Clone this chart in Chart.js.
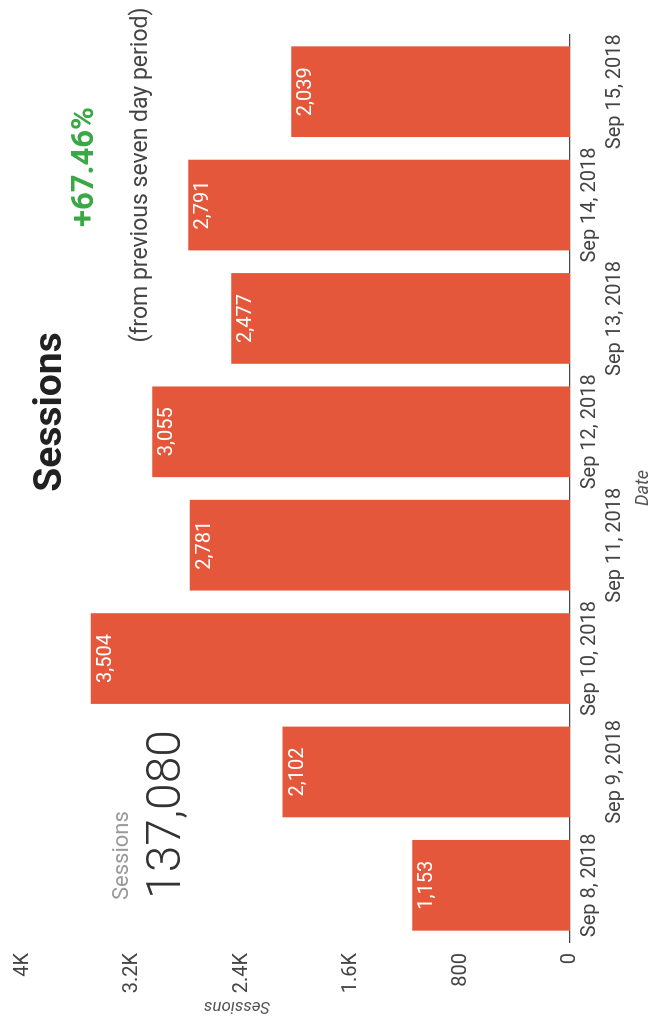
<!DOCTYPE html>
<html>
<head>
<meta charset="utf-8">
<script src="https://cdn.jsdelivr.net/npm/chart.js@4/dist/chart.umd.min.js"></script>
<style>
  html, body { margin: 0; padding: 0; background: #ffffff; }
  body { width: 652px; height: 1025px; overflow: hidden; position: relative; }
  /* the report page is laid out landscape and turned a quarter turn */
  #page {
    position: absolute; left: 0; top: 0;
    width: 1025px; height: 652px;
    transform-origin: 0 0;
    transform: translate(0, 1025px) rotate(-90deg);
    background: #ffffff;
  }
  #chart { display: block; }
</style>
</head>
<body>
<div id="page"><canvas id="chart" width="1025" height="652"></canvas></div>
<script>
// Daily sessions for the week
const dates = ['Sep 8, 2018', 'Sep 9, 2018', 'Sep 10, 2018', 'Sep 11, 2018',
               'Sep 12, 2018', 'Sep 13, 2018', 'Sep 14, 2018', 'Sep 15, 2018'];
const sessions = [1153, 2102, 3504, 2781, 3055, 2477, 2791, 2039];
const sessionTicks = ['0', '800', '1.6K', '2.4K', '3.2K', '4K'];
const totalSessions = '137,080';
const periodChange = '+67.46%';
const periodNote = '(from previous seven day period)';

const FONT = 'Roboto, "Noto Sans", sans-serif';

// white value labels just inside the top of each bar
const barValues = {
  id: 'barValues',
  afterDatasetsDraw(chart) {
    const ctx = chart.ctx;
    const meta = chart.getDatasetMeta(0);
    ctx.save();
    ctx.fillStyle = '#ffffff';
    ctx.font = '20px ' + FONT;
    ctx.textAlign = 'center';
    ctx.textBaseline = 'alphabetic';
    meta.data.forEach((bar, i) => {
      ctx.fillText(sessions[i].toLocaleString('en-US'), bar.x, bar.y + 20);
    });
    ctx.restore();
  }
};

// report heading, scorecard and axis titles
const pageText = {
  id: 'pageText',
  afterDraw(chart) {
    const ctx = chart.ctx;
    ctx.save();
    ctx.textBaseline = 'alphabetic';

    ctx.textAlign = 'center';
    ctx.fillStyle = '#212121';
    ctx.font = 'bold 39px ' + FONT;
    ctx.fillText('Sessions', 613, 61);

    ctx.fillStyle = '#3aa845';
    ctx.font = 'bold 31px ' + FONT;
    ctx.fillText(periodChange, 858, 93);

    ctx.fillStyle = '#444444';
    ctx.font = '23px ' + FONT;
    ctx.fillText(periodNote, 850, 147);

    ctx.textAlign = 'left';
    ctx.fillStyle = '#9a9a9a';
    ctx.font = '22px ' + FONT;
    ctx.fillText('Sessions', 125, 128);

    ctx.fillStyle = '#333333';
    ctx.font = '300 48px ' + FONT;
    ctx.fillText(totalSessions, 126, 180);

    ctx.textAlign = 'center';
    ctx.fillStyle = '#555555';
    ctx.font = 'italic 18px ' + FONT;
    ctx.fillText('Date', 537, 648);

    ctx.translate(23, 237);
    ctx.rotate(-Math.PI / 2);
    ctx.font = 'italic 17px ' + FONT;
    ctx.fillText('Sessions', 0, 0);
    ctx.restore();
  }
};

new Chart(document.getElementById('chart'), {
  type: 'bar',
  data: {
    labels: dates,
    datasets: [{
      label: 'Sessions',
      data: sessions,
      backgroundColor: '#e4573a',
      borderWidth: 0,
      barPercentage: 0.8,
      categoryPercentage: 1.0
    }]
  },
  options: {
    responsive: false,
    animation: false,
    devicePixelRatio: 1,
    layout: { padding: { top: 20, right: 35, left: 0, bottom: 0 } },
    plugins: {
      legend: { display: false },
      tooltip: { enabled: false },
      title: { display: false }
    },
    scales: {
      x: {
        grid: { display: false, drawTicks: false },
        border: { display: true, color: '#4a4a4a', width: 1.2 },
        ticks: {
          autoSkip: false,
          maxRotation: 0,
          minRotation: 0,
          padding: 7,
          color: '#444444',
          font: { family: FONT, size: 20, lineHeight: 1.25 },
          callback: (v, i) => (i % 2 === 1 ? ['', dates[i]] : dates[i])
        },
        afterFit(scale) { scale.height = 82; }
      },
      y: {
        min: 0,
        max: 4000,
        grid: { display: false, drawTicks: false },
        border: { display: false },
        ticks: {
          stepSize: 800,
          padding: 11,
          color: '#444444',
          font: { family: FONT, size: 20 },
          callback: (v, i) => sessionTicks[i]
        },
        afterFit(scale) { scale.width = 83; }
      }
    }
  },
  plugins: [barValues, pageText]
});
</script>
</body>
</html>
